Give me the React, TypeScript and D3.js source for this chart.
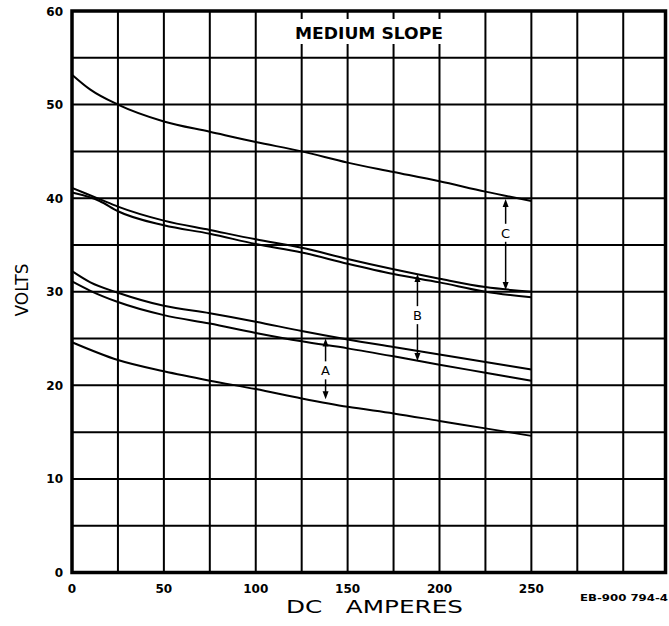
import React from "react";
import * as d3 from "d3";

// ---- data ----
const ampsGrid = [25, 50, 75, 100, 125, 150, 175, 200, 225, 250, 275, 300];
const voltsGrid = [5, 10, 15, 20, 25, 30, 35, 40, 45, 50, 55];
const xTicks = [0, 50, 100, 150, 200, 250];
const yTicks = [0, 10, 20, 30, 40, 50, 60];

const curveTop: [number, number][] = [
  [0, 53.2], [10, 51.6], [25, 50.0], [50, 48.2], [75, 47.1], [100, 46.0],
  [125, 45.0], [150, 43.8], [175, 42.8], [200, 41.8], [225, 40.7], [250, 39.7],
];
const curvePairHighA: [number, number][] = [
  [0, 41.1], [15, 39.9], [25, 39.1], [50, 37.6], [75, 36.6], [100, 35.6],
  [125, 34.7], [150, 33.5], [175, 32.4], [200, 31.4], [225, 30.5], [250, 30.0],
];
const curvePairHighB: [number, number][] = [
  [0, 40.6], [15, 39.7], [25, 38.6], [50, 37.1], [75, 36.2], [100, 35.1],
  [125, 34.2], [150, 33.0], [175, 31.9], [200, 31.0], [225, 30.0], [250, 29.4],
];
const curvePairLowA: [number, number][] = [
  [0, 32.2], [10, 31.0], [25, 29.9], [50, 28.5], [75, 27.7], [100, 26.8],
  [125, 25.8], [150, 24.9], [175, 24.1], [200, 23.3], [225, 22.5], [250, 21.7],
];
const curvePairLowB: [number, number][] = [
  [0, 31.1], [10, 30.1], [25, 28.9], [50, 27.5], [75, 26.6], [100, 25.6],
  [125, 24.7], [150, 23.95], [175, 23.1], [200, 22.2], [225, 21.35], [250, 20.5],
];
const curveBottom: [number, number][] = [
  [0, 24.6], [25, 22.7], [50, 21.5], [75, 20.5], [100, 19.6], [125, 18.6],
  [150, 17.7], [175, 17.0], [200, 16.2], [225, 15.4], [250, 14.6],
];
const curves = [curveTop, curvePairHighA, curvePairHighB, curvePairLowA, curvePairLowB, curveBottom];

const arrowLabels = ["A", "B", "C"];
const arrowAmps = [138, 188, 236];
const arrowFrom = [25.0, 31.9, 39.9];
const arrowTo = [18.5, 22.6, 30.2];
const arrowLabelVolts = [21.6, 27.5, 36.3];

const xMax = 323;
const yMax = 60;

export default function App() {
  const x = d3.scaleLinear().domain([0, xMax]).range([72, 665.5]);
  const y = d3.scaleLinear().domain([0, yMax]).range([572.5, 11]);
  const line = d3
    .line<[number, number]>()
    .x((d) => x(d[0]))
    .y((d) => y(d[1]))
    .curve(d3.curveMonotoneX);

  const font = "'DejaVu Sans', sans-serif";

  return (
    <svg
      width={669}
      height={626}
      style={{ position: "absolute", left: 0, top: 0, background: "#fff" }}
    >
      <rect x={0} y={0} width={669} height={626} fill="#fff" />
      {/* grid */}
      {ampsGrid.map((a) => (
        <line key={"v" + a} x1={x(a)} x2={x(a)} y1={y(0)} y2={y(yMax)} stroke="#000" strokeWidth={2} />
      ))}
      {voltsGrid.map((v) => (
        <line key={"h" + v} x1={x(0)} x2={x(xMax)} y1={y(v)} y2={y(v)} stroke="#000" strokeWidth={2} />
      ))}
      {/* title box */}
      <rect x={290} y={19} width={158} height={25} fill="#fff" />
      <text
        x={295}
        y={39}
        fontFamily={font}
        fontWeight="bold"
        fontSize={15}
        textLength={148}
        lengthAdjust="spacingAndGlyphs"
      >
        MEDIUM SLOPE
      </text>
      {/* curves */}
      {curves.map((c, i) => (
        <path key={"c" + i} d={line(c) || ""} fill="none" stroke="#000" strokeWidth={2} />
      ))}
      {/* arrows */}
      {arrowLabels.map((lab, i) => {
        const ax = x(arrowAmps[i]);
        const yTop = y(arrowFrom[i]);
        const yBot = y(arrowTo[i]);
        const yl = y(arrowLabelVolts[i]);
        return (
          <g key={"a" + lab}>
            <line x1={ax} x2={ax} y1={yTop + 6} y2={yl - 9} stroke="#000" strokeWidth={1.5} />
            <line x1={ax} x2={ax} y1={yl + 9} y2={yBot - 6} stroke="#000" strokeWidth={1.5} />
            <path d={`M${ax},${yTop} L${ax - 3},${yTop + 8} L${ax + 3},${yTop + 8} Z`} fill="#000" />
            <path d={`M${ax},${yBot} L${ax - 3},${yBot - 8} L${ax + 3},${yBot - 8} Z`} fill="#000" />
            <text x={ax} y={yl + 5} textAnchor="middle" fontFamily={font} fontSize={13}>
              {lab}
            </text>
          </g>
        );
      })}
      {/* frame */}
      <rect
        x={x(0)}
        y={y(yMax)}
        width={x(xMax) - x(0)}
        height={y(0) - y(yMax)}
        fill="none"
        stroke="#000"
        strokeWidth={3.5}
      />
      {/* tick labels */}
      {yTicks.map((v) => (
        <text key={"yt" + v} x={63} y={y(v) + 4.5} textAnchor="end" fontFamily={font} fontWeight="bold" fontSize={12}>
          {v}
        </text>
      ))}
      {xTicks.map((a) => (
        <text key={"xt" + a} x={x(a)} y={593} textAnchor="middle" fontFamily={font} fontWeight="bold" fontSize={12}>
          {a}
        </text>
      ))}
      {/* axis titles */}
      <text
        x={0}
        y={0}
        transform="translate(28,290) rotate(-90)"
        textAnchor="middle"
        fontFamily={font}
        fontSize={17}
      >
        VOLTS
      </text>
      <text
        x={286}
        y={613}
        fontFamily={font}
        fontSize={18}
        textLength={177}
        lengthAdjust="spacingAndGlyphs"
        style={{ whiteSpace: "pre" }}
      >
        {"DC   AMPERES"}
      </text>
      <text
        x={580}
        y={601}
        fontFamily={font}
        fontWeight="bold"
        fontSize={9.5}
        textLength={88}
        lengthAdjust="spacingAndGlyphs"
      >
        EB-900 794-4
      </text>
    </svg>
  );
}
